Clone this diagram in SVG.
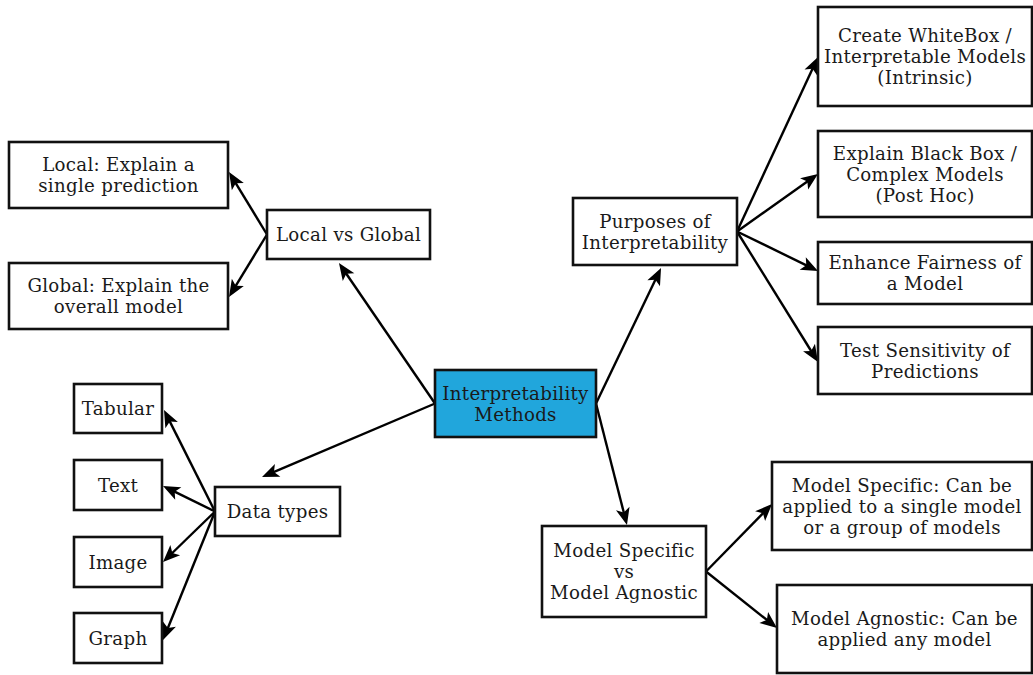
<svg xmlns="http://www.w3.org/2000/svg" width="1033" height="675" viewBox="0 0 1033 675">
<style>
.box{fill:#fff;stroke:#111;stroke-width:2.6}
.main{fill:#21a6dc}
.lbl{font-size:18.2px;letter-spacing:0.3px;fill:#1a1a1a;text-anchor:middle}
.edge{stroke:#000;stroke-width:2.4;fill:none;marker-end:url(#ah)}
</style>
<defs>
<marker id="ah" markerUnits="userSpaceOnUse" markerWidth="30" markerHeight="30" viewBox="-15 -15 30 30" refX="0" refY="0" orient="auto" overflow="visible">
<path d="M10,0 L-7,-7 L-3,0 L-7,7 Z" fill="#000"/>
</marker>
</defs>
<g id="connectors">
<line class="edge" x1="435" y1="403.5" x2="344.6" y2="271.3"/>
<line class="edge" x1="435" y1="403.5" x2="271.2" y2="473.1"/>
<line class="edge" x1="596" y1="403.5" x2="656.7" y2="277"/>
<line class="edge" x1="596" y1="403.5" x2="624.5" y2="515.3"/>
<line class="edge" x1="267" y1="234.5" x2="234.2" y2="180.6"/>
<line class="edge" x1="267" y1="234.5" x2="234.2" y2="288.4"/>
<line class="edge" x1="737" y1="231.5" x2="813.8" y2="66.1"/>
<line class="edge" x1="737" y1="231.5" x2="809.8" y2="179.8"/>
<line class="edge" x1="737" y1="231.5" x2="809" y2="266.6"/>
<line class="edge" x1="737" y1="231.5" x2="812.7" y2="353.5"/>
<line class="edge" x1="215" y1="511.5" x2="168.5" y2="418.9"/>
<line class="edge" x1="215" y1="511.5" x2="172" y2="490.4"/>
<line class="edge" x1="215" y1="511.5" x2="170.2" y2="555"/>
<line class="edge" x1="215" y1="511.5" x2="166.8" y2="630.7"/>
<line class="edge" x1="706" y1="571.5" x2="765" y2="511.2"/>
<line class="edge" x1="706" y1="571.5" x2="769.2" y2="621.8"/>
</g>
<g font-family="'DejaVu Serif','Liberation Serif','Noto Serif',serif">
<g id="n-main"><rect class="box main" x="435" y="370" width="161" height="67"/>
<text class="lbl" x="515.5" y="399.6">Interpretability</text><text class="lbl" x="515.5" y="420.6">Methods</text></g>
<g id="n-lvg"><rect class="box" x="267" y="210" width="163" height="49"/>
<text class="lbl" x="348.5" y="241.1">Local vs Global</text></g>
<g id="n-local"><rect class="box" x="9" y="142" width="219" height="66"/>
<text class="lbl" x="118.5" y="171.1">Local: Explain a</text><text class="lbl" x="118.5" y="192.1">single prediction</text></g>
<g id="n-global"><rect class="box" x="9" y="263" width="219" height="66"/>
<text class="lbl" x="118.5" y="292.1">Global: Explain the</text><text class="lbl" x="118.5" y="313.1">overall model</text></g>
<g id="n-purposes"><rect class="box" x="573" y="198" width="164" height="67"/>
<text class="lbl" x="655" y="227.6">Purposes of</text><text class="lbl" x="655" y="248.6">Interpretability</text></g>
<g id="n-create"><rect class="box" x="818" y="7" width="214" height="99"/>
<text class="lbl" x="925" y="42.1">Create WhiteBox /</text><text class="lbl" x="925" y="63.1">Interpretable Models</text><text class="lbl" x="925" y="84.1">(Intrinsic)</text></g>
<g id="n-explain"><rect class="box" x="818" y="131" width="214" height="86"/>
<text class="lbl" x="925" y="159.6">Explain Black Box /</text><text class="lbl" x="925" y="180.6">Complex Models</text><text class="lbl" x="925" y="201.6">(Post Hoc)</text></g>
<g id="n-enhance"><rect class="box" x="818" y="242" width="214" height="62"/>
<text class="lbl" x="925" y="269.1">Enhance Fairness of</text><text class="lbl" x="925" y="290.1">a Model</text></g>
<g id="n-test"><rect class="box" x="818" y="327" width="214" height="67"/>
<text class="lbl" x="925" y="356.6">Test Sensitivity of</text><text class="lbl" x="925" y="377.6">Predictions</text></g>
<g id="n-data"><rect class="box" x="215" y="487" width="125" height="49"/>
<text class="lbl" x="277.5" y="518.1">Data types</text></g>
<g id="n-tabular"><rect class="box" x="74" y="384" width="88" height="49"/>
<text class="lbl" x="118" y="415.1">Tabular</text></g>
<g id="n-text"><rect class="box" x="74" y="460" width="88" height="50"/>
<text class="lbl" x="118" y="491.6">Text</text></g>
<g id="n-image"><rect class="box" x="74" y="537" width="88" height="50"/>
<text class="lbl" x="118" y="568.6">Image</text></g>
<g id="n-graph"><rect class="box" x="74" y="613" width="88" height="50"/>
<text class="lbl" x="118" y="644.6">Graph</text></g>
<g id="n-msma"><rect class="box" x="542" y="526" width="164" height="91"/>
<text class="lbl" x="624" y="557.1">Model Specific</text><text class="lbl" x="624" y="578.1">vs</text><text class="lbl" x="624" y="599.1">Model Agnostic</text></g>
<g id="n-mspec"><rect class="box" x="772" y="462" width="260" height="88"/>
<text class="lbl" x="902" y="491.6">Model Specific: Can be</text><text class="lbl" x="902" y="512.6">applied to a single model</text><text class="lbl" x="902" y="533.6">or a group of models</text></g>
<g id="n-magn"><rect class="box" x="777" y="585" width="255" height="88"/>
<text class="lbl" x="904.5" y="625.1">Model Agnostic: Can be</text><text class="lbl" x="904.5" y="646.1">applied any model</text></g>
</g>
</svg>
